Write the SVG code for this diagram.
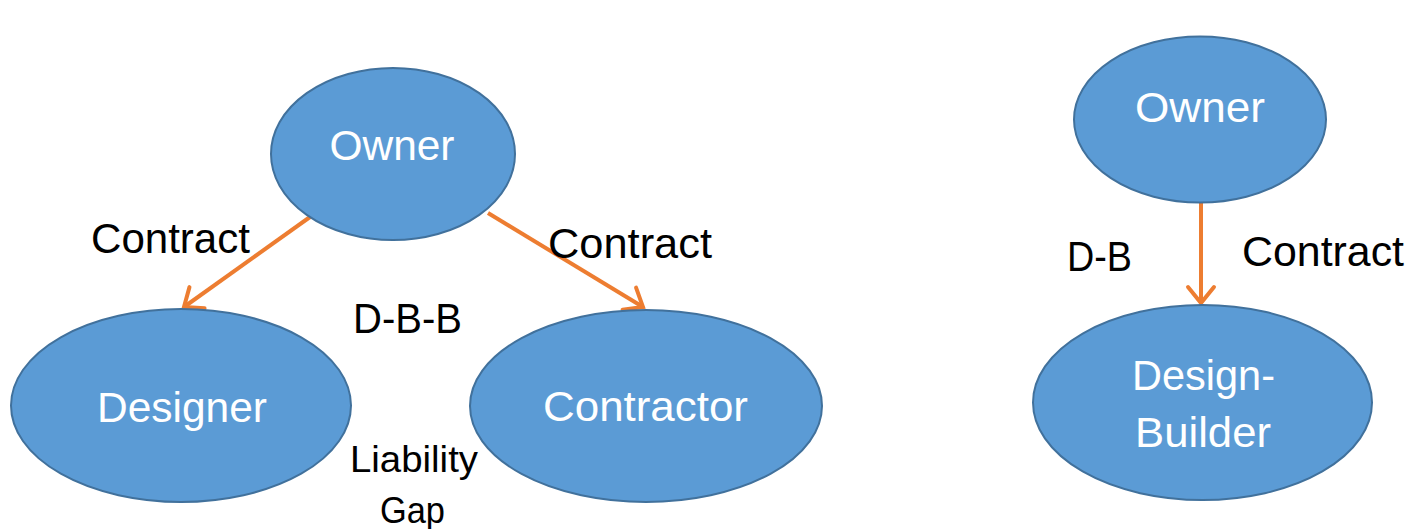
<svg xmlns="http://www.w3.org/2000/svg" width="1411" height="529" viewBox="0 0 1411 529">
<style>
.node{fill:#5B9BD5;stroke:#41719C;stroke-width:2}
.nt{fill:#FFFFFF;font-family:"Liberation Sans",Arial,sans-serif;font-size:43px;text-anchor:middle}
.lbl{fill:#000000;font-family:"Liberation Sans",Arial,sans-serif;font-size:42px}
.sm{font-size:37px}
.edge{stroke:#ED7D31;stroke-width:4;fill:none}
</style>
<defs>
<marker id="arr" markerUnits="userSpaceOnUse" markerWidth="34" markerHeight="34" viewBox="-18 -17 22 34" refX="0" refY="0" orient="auto">
<path d="M-16,-13 L0,0 L-16,13" fill="none" stroke="#ED7D31" stroke-width="4" stroke-linecap="round" stroke-linejoin="miter"/>
</marker>
</defs>
<g id="connectors">
<line class="edge" x1="317" y1="212" x2="184" y2="307" marker-end="url(#arr)"/>
<line class="edge" x1="488" y1="213" x2="643" y2="307" marker-end="url(#arr)"/>
<line class="edge" x1="1201" y1="202" x2="1201" y2="303" marker-end="url(#arr)"/>
</g>
<g id="owner1">
<ellipse class="node" cx="393" cy="154" rx="122" ry="86"/>
<text class="nt" x="392" y="160" textLength="125" lengthAdjust="spacingAndGlyphs">Owner</text>
</g>
<g id="designer">
<ellipse class="node" cx="181" cy="405.5" rx="170" ry="96.5"/>
<text class="nt" x="182" y="422" textLength="170" lengthAdjust="spacingAndGlyphs">Designer</text>
</g>
<g id="contractor">
<ellipse class="node" cx="646" cy="406" rx="176" ry="96"/>
<text class="nt" x="645.5" y="421" textLength="205" lengthAdjust="spacingAndGlyphs">Contractor</text>
</g>
<g id="owner2">
<ellipse class="node" cx="1200" cy="119.5" rx="126" ry="83"/>
<text class="nt" x="1200" y="122" textLength="130" lengthAdjust="spacingAndGlyphs">Owner</text>
</g>
<g id="designbuilder">
<ellipse class="node" cx="1202.5" cy="402.5" rx="169.5" ry="97.5"/>
<text class="nt" x="1203.5" y="390" textLength="143" lengthAdjust="spacingAndGlyphs">Design-</text>
<text class="nt" x="1203" y="447" textLength="136" lengthAdjust="spacingAndGlyphs">Builder</text>
</g>
<g id="labels">
<text class="lbl" x="91" y="253" textLength="159" lengthAdjust="spacingAndGlyphs">Contract</text>
<text class="lbl" x="548" y="258" textLength="164" lengthAdjust="spacingAndGlyphs">Contract</text>
<text class="lbl" x="353" y="333" textLength="109" lengthAdjust="spacingAndGlyphs">D-B-B</text>
<text class="lbl sm" x="350" y="472" textLength="128" lengthAdjust="spacingAndGlyphs">Liability</text>
<text class="lbl sm" x="380" y="523" textLength="65" lengthAdjust="spacingAndGlyphs">Gap</text>
<text class="lbl" x="1067" y="271" textLength="65" lengthAdjust="spacingAndGlyphs">D-B</text>
<text class="lbl" x="1242" y="266" textLength="162" lengthAdjust="spacingAndGlyphs">Contract</text>
</g>
</svg>
